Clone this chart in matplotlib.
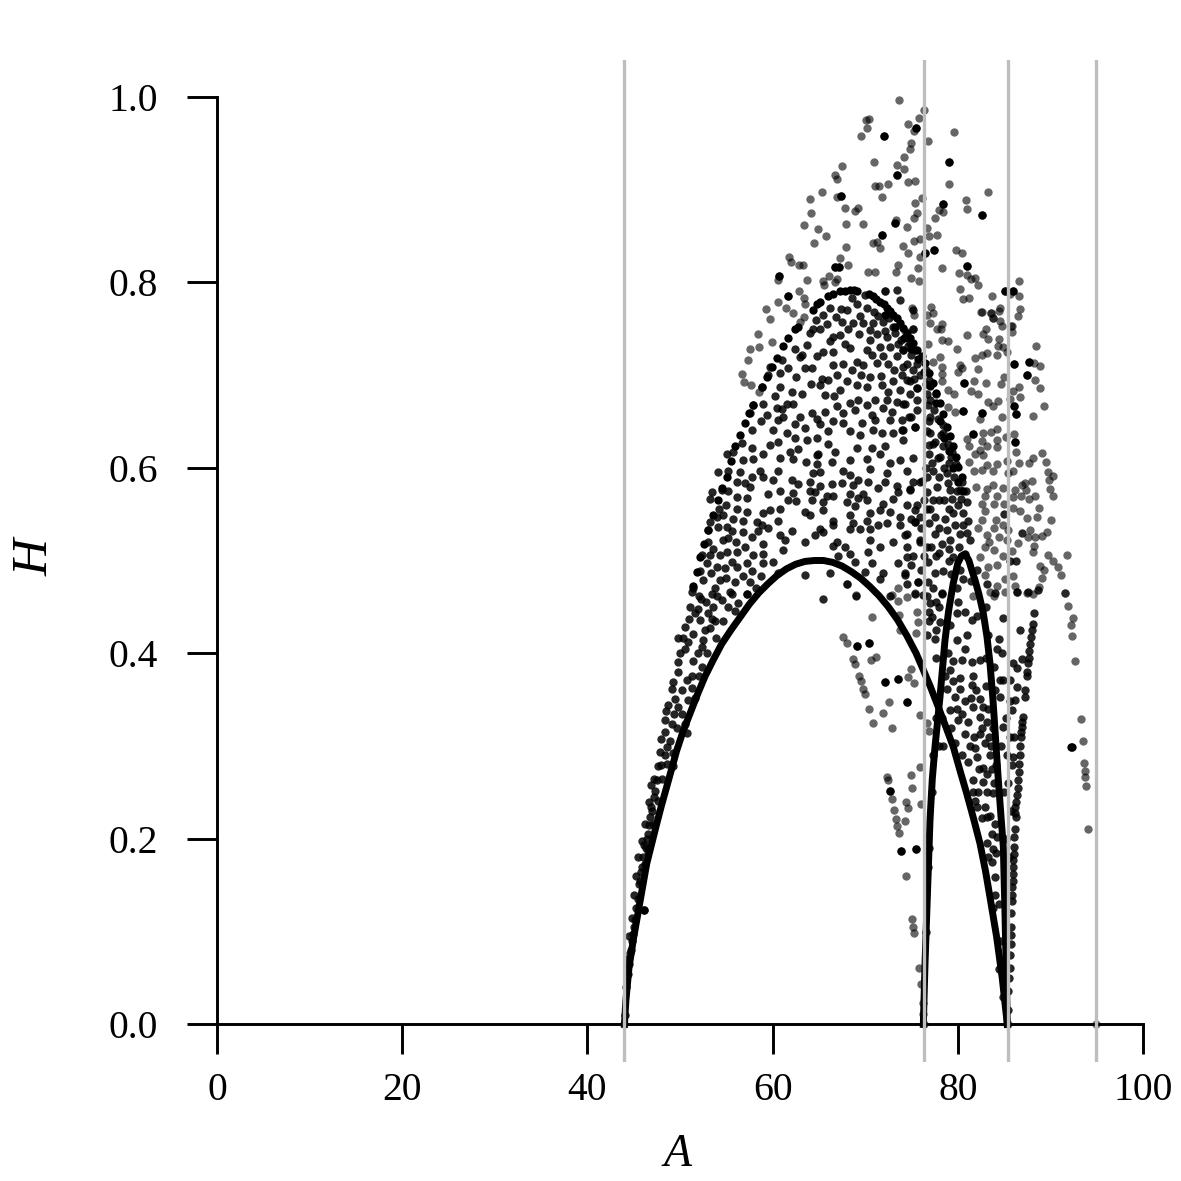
import numpy as np
import matplotlib
matplotlib.use("Agg")
import matplotlib.pyplot as plt

plt.rcParams['font.family'] = ['Liberation Serif', 'DejaVu Serif']

x_ticks = [0, 20, 40, 60, 80, 100]
y_ticks = [0.0, 0.2, 0.4, 0.6, 0.8, 1.0]
y_tick_labels = ['0.0', '0.2', '0.4', '0.6', '0.8', '1.0']
guide_A = [44.0, 76.3, 85.4, 94.9]

# the two solid-looking arcs
A_low = [44.0, 44.15, 44.49, 45.0, 45.5, 46.4, 47.48, 48.0, 48.56, 49.64, 50.3, 51.08, 51.9, 52.7, 53.6, 54.5, 55.5, 56.5,
         57.5, 58.5, 59.5, 60.5, 61.5, 62.5, 63.5, 64.5, 65.5, 66.5, 67.5, 68.5, 69.5, 70.5, 71.5, 72.5, 73.5, 74.5, 75.5,
         76.28, 77.0, 77.9, 78.7, 79.52, 80.2, 80.96, 81.7, 82.4, 83.0, 83.48, 84.2, 84.8, 85.35]
H_low = [0.0, 0.025, 0.061, 0.094, 0.122, 0.173, 0.216, 0.236, 0.256, 0.295, 0.315, 0.335, 0.356, 0.375, 0.393, 0.41, 0.425, 0.439,
         0.453, 0.465, 0.475, 0.484, 0.491, 0.496, 0.499, 0.5, 0.5, 0.498, 0.494, 0.488, 0.481, 0.472, 0.462, 0.45, 0.436, 0.419, 0.4,
         0.382, 0.365, 0.342, 0.321, 0.299, 0.275, 0.249, 0.222, 0.195, 0.165, 0.137, 0.094, 0.05, 0.0]
A_small = [76.28, 76.46, 76.71, 77.0, 77.25, 77.54, 78.08, 78.62, 79.0, 79.5, 80.0, 80.4, 80.8, 81.2, 81.5, 81.86, 82.3, 82.76,
           83.15, 83.48, 83.8, 84.02, 84.38, 84.7, 84.92, 85.1, 85.25, 85.35]
H_small = [0.0, 0.065, 0.137, 0.22, 0.265, 0.299, 0.353, 0.414, 0.445, 0.475, 0.497, 0.505, 0.507, 0.5, 0.49, 0.479, 0.463, 0.443,
           0.418, 0.389, 0.35, 0.317, 0.263, 0.22, 0.191, 0.119, 0.05, 0.0]

rim_points = [
(51.44,.472),(51.8,.488),(52.16,.504),(52.6,.518),(53.06,.533),(53.6,.549),(54.14,.565),(54.57,.578),(55.04,.590),(55.47,.607),
(55.94,.623),(56.48,.635),(57.02,.648),(57.45,.659),(57.92,.668),(58.82,.687),(59.36,.698),(59.9,.709),(60.44,.718),(61.16,.731),
(61.7,.740),(62.42,.749),(62.7,.752),(64.4,.770),(64.76,.776),(65.1,.779),(66.0,.785),(66.56,.787),(67.28,.790),(67.8,.791),(68.36,.792),(68.8,.792),(69.15,.791),
(70.4,.787),(70.88,.785),(71.2,.782),(71.6,.779),(72.0,.776),(72.32,.772),(72.7,.769),(73.04,.765),(73.4,.761),(73.76,.756),(74.1,.751),(74.48,.745),(74.85,.740),(75.2,.734),(75.6,.727),(76.1,.720),
(76.46,.713),(76.9,.702),(77.36,.691),(77.7,.681),(78.08,.670),(78.4,.658),(78.8,.644),(79.15,.634),(79.52,.623),(79.8,.612),(80.06,.601),(80.42,.590),(80.6,.575),
(72.1,.765),(73.2,.752),(74.2,.740),(75.0,.728),(75.7,.717),(76.3,.703),(77.0,.688),(77.6,.670),(78.1,.650),(78.5,.632),(79.0,.618),(79.5,.600),(80.0,.585),
]

core_points = [
(64.65,.759),(65.12,.749),(64.4,.750),(66.2,.772),(65.48,.765),(68.0,.770),(69.08,.776),(69.98,.786),(72.14,.790),(73.4,.792),
(73.76,.781),(75.2,.770),(69.8,.756),(68.72,.756),(70.88,.756),(73.04,.752),(67.28,.743),(66.56,.741),(70.52,.738),(72.32,.741),
(63.68,.732),(65.48,.725),(66.56,.725),(68.36,.729),(70.16,.727),(71.96,.720),(74.12,.727),(75.2,.749),(62.96,.719),(61.7,.707),
(63.5,.708),(64.22,.707),(65.3,.696),(66.56,.711),(68.54,.705),(69.8,.711),(71.24,.713),(73.4,.720),(75.2,.705),(59.72,.709),
(60.8,.702),(59.54,.700),(58.82,.687),(60.8,.687),(62.06,.682),(65.12,.689),(66.02,.695),(67.28,.684),(68.0,.693),(69.08,.689),
(70.16,.687),(71.78,.689),(72.5,.682),(73.76,.684),(74.84,.693),(75.56,.686),(57.92,.668),(59.0,.669),(60.26,.677),(61.52,.669),
(62.17,.669),(65.66,.678),(66.92,.667),(68.36,.670),(69.26,.673),(71.06,.673),(72.32,.673),(73.4,.671),(74.3,.669),(57.56,.659),
(59.36,.657),(60.44,.664),(61.16,.655),(64.22,.659),(64.76,.653),(65.66,.660),(67.64,.659),(68.9,.662),(70.7,.657),(71.96,.664),
(72.68,.651),(73.94,.651),(60.62,.651),(62.42,.647),(60.08,.641),(61.52,.637),(57.74,.641),(66.56,.650),(67.64,.648),(65.12,.647),
(70.88,.641),(71.78,.637),(73.94,.641),(75.38,.644),(68.36,.640),(69.44,.635),(73.04,.637),(62.42,.632),(63.68,.630),(64.76,.632),
(66.02,.626),(60.62,.628),(59.72,.624),(57.74,.621),(59.0,.615),(61.88,.617),(62.78,.620),(64.94,.615),(66.74,.617),(69.08,.621),
(70.7,.621),(72.14,.623),(74.12,.630),(75.2,.610),(55.04,.615),(55.76,.617),(60.8,.610),(62.24,.609),(63.61,.606),(64.76,.614),
(66.38,.606),(68.36,.608),(70.16,.609),(71.6,.615),(72.68,.605),(73.76,.608),(56.84,.608),(57.92,.609),(64.76,.604),(70.52,.599),
(55.22,.596),(58.64,.597),(56.48,.595),(60.62,.596),(67.64,.597),(72.32,.594),(74.48,.596),(54.14,.595),(57.74,.590),(59.0,.590),
(64.4,.594),(65.12,.595),(68.36,.592),(60.08,.587),(62.06,.587),(62.78,.582),(64.04,.585),(69.26,.587),(70.34,.585),(72.14,.585),
(76.1,.586),(56.12,.585),(57.02,.583),(66.38,.582),(67.46,.583),(68.72,.581),(71.42,.578),(73.4,.580),(74.84,.577),(53.42,.574),
(54.5,.576),(57.56,.579),(65.12,.580),(60.8,.575),(59.54,.572),(62.24,.573),(64.04,.575),(64.58,.574),(66.56,.569),(65.84,.569),
(68.36,.572),(69.8,.572),(73.58,.574),(53.24,.566),(57.2,.567),(61.7,.565),(62.53,.564),(64.22,.565),(65.48,.563),(68.0,.563),
(69.26,.567),(70.23,.565),(71.96,.561),(73.04,.566),(75.38,.554),(56.12,.556),(54.68,.549),(59.72,.554),(60.8,.555),(63.5,.552),
(65.48,.554),(68.9,.559),(70.52,.551),(71.6,.554),(72.68,.552),(59.0,.551),(53.96,.547),(55.76,.545),(57.2,.552),(66.56,.543),
(68.36,.549),(70.16,.543),(73.76,.547),(75.92,.547),(75.38,.541),(53.24,.542),(56.84,.543),(58.28,.542),(60.62,.543),(64.04,.549),
(66.56,.538),(68.72,.540),(71.42,.538),(72.32,.540),(73.76,.538),(53.06,.533),(54.14,.536),(55.04,.536),(56.84,.531),(58.82,.538),
(62.06,.532),(65.12,.534),(64.58,.527),(65.48,.531),(68.36,.534),(69.44,.534),(70.52,.534),(74.3,.527),(53.06,.520),(55.22,.524),
(59.0,.518),(60.8,.527),(61.34,.522),(63.5,.520),(66.92,.520),(70.52,.522),(71.6,.515),(73.04,.520),(74.48,.515),(75.92,.520),
(56.12,.509),(57.02,.515),(57.92,.506),(59.0,.507),(61.16,.511),(66.56,.516),(67.82,.515),(68.36,.507),(70.34,.509),(52.34,.506),
(53.24,.506),(54.32,.506),(55.04,.509),(59.0,.497),(60.08,.498),(57.2,.497),(56.12,.493),(53.96,.493),(54.86,.492),(68.9,.498),
(67.1,.505),(73.58,.497),(74.48,.504),(70.7,.497),(69.98,.488),(71.96,.486),(66.2,.486),(63.5,.484),(71.6,.480),(74.3,.484),
(52.16,.489),(52.52,.479),(54.32,.479),(55.94,.477),(57.56,.477),(75.74,.477),(74.48,.475),(68.0,.475),(51.44,.470),(53.78,.470),
(55.4,.466),(57.2,.464),(72.68,.462),(75.38,.464),(76.64,.462),(69.0,.462),(65.48,.459),
]

core_extra_points = [
(64.0,.745),(66.9,.762),(67.4,.771),(68.6,.783),(69.4,.763),(70.2,.772),(70.9,.768),(71.4,.763),(71.9,.757),(72.6,.761),
(73.2,.745),(73.9,.738),(74.6,.731),(75.0,.722),(75.6,.712),(75.9,.700),(75.3,.696),(74.5,.712),(73.5,.733),(72.7,.730),
(72.1,.747),(71.3,.744),(70.5,.748),(69.3,.744),(68.1,.750),(67.5,.757),(65.9,.755),(66.2,.737),(67.8,.733),(69.1,.714),
(70.7,.722),(71.6,.730),(72.5,.712),(73.1,.705),(74.0,.700),(74.8,.680),(75.6,.662),(75.0,.655),(73.0,.694),(71.7,.699),
(70.5,.698),(69.5,.700),(67.6,.712),(67.0,.700),(64.8,.720),(63.2,.722),(62.4,.728),(61.0,.716),(62.5,.698),(64.2,.690),
(63.2,.680),(66.6,.677),(70.2,.668),(72.9,.660),(74.7,.655),(69.7,.648),(71.1,.651),(63.0,.655),(63.5,.643),(66.0,.640),
(61.0,.663),(58.7,.650),(56.7,.627),
(55.2,.575),(56.2,.568),(55.0,.560),(54.2,.555),(55.6,.532),(57.8,.525),(58.4,.532),(59.5,.535),(54.6,.522),(56.0,.520),
(53.6,.512),(52.9,.497),(53.4,.487),(55.6,.498),(57.8,.489),(58.8,.483),(60.6,.486),(55.0,.481),(56.8,.483),(58.2,.470),
(52.0,.462),(52.8,.455),(54.0,.462),(55.2,.450),(55.9,.446),(51.9,.448),(53.0,.443),(53.8,.435),(51.0,.437),(50.9,.412),
(51.9,.400),(53.2,.427),(52.0,.376),(51.6,.352),(50.9,.350),(50.2,.335),(49.4,.335),(48.9,.305),(47.9,.308),(48.0,.280),
(47.2,.265),(46.9,.258),(46.6,.240),(46.2,.216),(45.9,.198),(45.5,.180),(45.3,.160),(45.0,.140),(44.8,.115),(44.5,.095),
(44.3,.07),
(76.6,.705),(76.9,.695),(77.6,.680),(76.7,.680),(77.4,.662),(76.9,.650),(77.9,.652),(78.2,.635),(77.5,.628),(76.9,.625),
(78.9,.626),(78.1,.612),(79.3,.612),(79.8,.604),(78.5,.600),(77.2,.605),(76.7,.590),(78.0,.590),(78.9,.583),(79.9,.575),
(80.9,.575),(80.3,.566),(79.4,.566),(78.5,.565),(77.0,.555),(76.4,.565),(75.6,.560),(75.2,.585),(74.5,.560),(75.0,.545),
(76.0,.535),(76.9,.540),(78.0,.535),(78.8,.533),(79.7,.538),(80.6,.538),(81.0,.530),(80.1,.515),(79.0,.512),(78.0,.508),
(77.1,.515),(76.3,.505),(75.2,.505),(75.0,.495),(76.0,.490),(77.5,.487),(79.3,.485),(80.6,.480),(81.4,.478),(82.1,.490),
(80.0,.455),(79.2,.430),(77.6,.455),(76.9,.435),(77.7,.425),(78.9,.400),(77.7,.395),(79.5,.392),(78.6,.375),(79.5,.370),
(81.0,.420),(82.1,.440),(83.0,.450),(83.3,.420),(83.0,.395),(83.9,.385),(84.4,.415),(84.8,.400),
(79.3,.320),(79.9,.340),(80.5,.335),(81.4,.352),(82.0,.360),(83.0,.365),(83.2,.326),(82.6,.320),(81.7,.310),(81.3,.300),
(81.9,.298),(83.4,.310),(83.6,.300),(82.3,.275),(81.6,.250),(82.2,.250),(83.2,.270),(83.7,.275),(83.2,.250),(82.6,.222),
(83.5,.225),(83.7,.205),(83.3,.180),(84.1,.185),(84.0,.140),(83.8,.125),(84.5,.13),(84.6,.09),(84.5,.06),(84.9,.03),
(85.0,.07),(85.1,.16),(85.2,.20),(85.0,.25),(84.7,.30),(85.2,.33),(85.4,.26),(85.5,.18),(85.7,.23),(85.9,.28),
(85.6,.31),(86.1,.31),(86.2,.35),(76.6,.10),(76.75,.17),(76.9,.19),(77.2,.25),(77.3,.29),(77.7,.33),(78.0,.30),
(78.3,.33),(78.4,.30),(85.6,.50),(85.0,.55),(86.3,.50),(86.9,.53),
]

right_points = [
(75.02,.772),(75.27,.765),(77.07,.773),(77.36,.767),(76.64,.765),(77.0,.756),(78.26,.755),(77.72,.749),(78.15,.750),(75.2,.749),
(74.3,.747),(78.26,.738),(78.98,.737),(76.82,.733),(79.95,.728),(78.08,.719),(77.36,.714),(78.26,.709),(78.33,.701),(78.33,.693),
(78.98,.684),(79.63,.680),(80.24,.711),(80.49,.707),(80.06,.703),(82.22,.706),(82.58,.768),(83.59,.767),(84.56,.772),(83.84,.761),
(84.74,.753),(83.05,.750),(82.69,.744),(81.03,.743),(83.3,.739),(84.45,.739),(84.38,.731),(84.92,.730),(85.28,.725),(83.19,.724),
(82.58,.722),(81.86,.718),(84.27,.722),(85.82,.753),(85.82,.746),(88.41,.731),(86.07,.712),(87.66,.714),(88.27,.713),(88.88,.710),
(87.44,.700),(88.34,.695),(88.88,.686),(86.61,.687),(86.0,.683),(86.72,.676),(85.64,.674),(83.05,.691),(84.67,.690),(84.99,.698),
(80.71,.691),(81.75,.693),(81.46,.683),(82.15,.679),(83.3,.671),(83.77,.666),(84.38,.672),(86.11,.666),(86.25,.658),(89.35,.667),
(88.12,.656),(84.74,.655),(82.65,.659),(82.4,.652),(80.53,.661),(79.7,.660),(78.98,.665),(84.27,.642),(83.55,.639),(82.76,.637),
(81.61,.636),(80.96,.631),(86.07,.636),(86.18,.628),(86.25,.617),(85.21,.633),(84.2,.630),(82.58,.629),(83.19,.623),(84.27,.622),
(81.25,.623),(82.4,.619),(81.86,.615),(82.76,.614),(89.1,.616),(88.09,.610),(86.65,.605),(87.69,.605),(89.53,.606),(85.28,.607),
(84.27,.604),(83.12,.603),(81.25,.606),(81.75,.597),(82.58,.598),(83.84,.596),(85.39,.594),(86.0,.596),(89.71,.595),(90.25,.591),
(89.89,.587),(87.98,.586),(87.26,.583),(86.9,.581),(87.37,.576),(89.96,.577),(90.25,.570),(88.34,.570),(87.73,.566),(86.79,.570),
(86.0,.568),(86.18,.576),(84.85,.578),(83.84,.581),(83.19,.577),(84.27,.570),(81.97,.579),(82.94,.570),(82.58,.561),(83.95,.561),
(84.99,.561),(85.93,.557),(86.72,.553),(82.94,.553),(88.77,.557),(88.59,.547),(90.03,.544),(87.44,.546),(84.13,.544),(82.58,.544),
(82.15,.535),(83.91,.535),(84.92,.538),(85.46,.533),(87.8,.533),(88.34,.525),(89.67,.531),(89.06,.526),(87.62,.525),(88.23,.516),
(85.28,.522),(86.54,.519),(84.45,.525),(83.19,.527),(83.41,.520),(82.98,.515),(85.89,.510),(83.95,.511),(88.09,.509),(89.71,.506),
(90.32,.499),(91.83,.506),(90.86,.493),(91.15,.484),(88.88,.494),(89.31,.490),(89.06,.481),(85.93,.483),(85.1,.480),(84.92,.505),
(84.2,.495),(83.3,.493),(82.94,.484),(84.27,.473),(86.18,.472),(86.36,.466),(87.44,.465),(88.16,.464),(88.81,.471),(91.62,.465),
(83.48,.466),(83.91,.462),(85.1,.466),(82.4,.504),(81.61,.462),
]

right_dense_points = [
(77.36,.596),(78.8,.594),(74.84,.576),(77.72,.579),(79.16,.576),(80.24,.576),(77.36,.565),(80.96,.563),(79.52,.551),(80.6,.551),
(78.62,.545),(77.54,.547),(81.14,.543),(75.92,.585),(76.64,.574),(75.38,.542),(74.48,.529),(75.92,.522),(77.54,.529),(78.26,.518),
(79.16,.522),(80.24,.529),(81.32,.522),(76.82,.498),(78.44,.489),(79.52,.504),(80.78,.507),(75.74,.477),(76.82,.477),(78.26,.464),
(74.3,.486),(77.36,.626),(78.44,.623),(78.44,.637),(79.34,.617),(77.0,.637),(75.38,.644),(77.0,.655),(78.44,.646),(74.12,.641),
(75.56,.673),(77.0,.673),(74.12,.669),(74.48,.695),(75.56,.686),(74.12,.727),(74.84,.734),(74.12,.709),(75.38,.727),(76.6,.690),
(76.8,.668),(76.7,.640),(76.9,.615),(77.9,.610),(79.0,.605),(79.6,.590),(80.5,.585),(76.6,.600),(76.7,.555),(78.0,.565),
(79.1,.555),(80.0,.560),(76.7,.515),(77.6,.505),(79.0,.500),(80.2,.490),(79.9,.470),(77.3,.470),(78.0,.450),(76.9,.445),
(76.7,.420),(77.5,.415),
]

lower_points = [
(68.07,.475),(69.01,.463),(70.74,.439),(67.64,.418),(68.0,.411),(69.08,.408),(70.38,.411),(68.65,.394),(68.9,.388),(70.63,.393),
(71.17,.396),(69.33,.375),(69.51,.370),(69.76,.362),(69.98,.356),(72.18,.369),(73.51,.372),(72.57,.348),(70.45,.340),(71.96,.336),
(70.88,.325),(72.93,.320),(74.48,.347),(74.59,.374),(75.27,.368),(74.91,.383),(75.49,.422),(75.56,.444),(75.74,.434),(73.69,.441),
(73.76,.425),(72.86,.463),(73.58,.456),(74.48,.461),(75.38,.465),(73.58,.470),(75.92,.333),(76.71,.325),(76.86,.316),
(72.32,.267),(72.43,.263),(72.68,.252),(72.86,.243),(73.11,.231),(73.29,.221),(73.47,.214),(73.62,.206),(73.9,.187),(75.49,.189),
(74.37,.240),(74.62,.233),(74.34,.219),(74.41,.160),(75.09,.114),(75.2,.105),(75.31,.099),(74.95,.269),(75.09,.255),(75.92,.277),
(76.03,.238),(75.85,.061),(76.03,.043),(76.28,.023),(76.28,.011),(76.3,.0),(85.4,.0),
(91.62,.465),(91.87,.451),(92.48,.438),(92.19,.430),(92.37,.419),(92.66,.392),(93.27,.329),(93.49,.305),(93.63,.282),(93.74,.273),
(93.74,.267),(93.81,.257),(94.06,.211),(94.89,.0),(44.0,.0),
]

band_points = [
(87.01,.331),(86.9,.321),(86.79,.310),(86.72,.290),(86.65,.281),(86.54,.263),(86.43,.247),(86.18,.234),(86.25,.223),(86.18,.211),
(86.07,.191),(86.0,.177),(86.0,.162),(85.89,.148),(85.82,.133),(85.75,.105),(85.71,.087),(85.64,.061),(85.46,.036),(85.46,.015),
(87.26,.353),(87.44,.375),(87.62,.389),(87.73,.402),(87.87,.418),(88.09,.432),(88.27,.443),(88.7,.468),(87.62,.466),(86.36,.466),
(86.72,.425),(86.0,.389),(86.36,.384),(86.9,.394),(85.64,.371),(86.36,.364),(85.82,.339),(85.64,.349),(84.92,.371),(84.56,.353),
(84.92,.321),(85.28,.290),(86.0,.288),(86.95,.326),(86.85,.315),(86.75,.300),(86.6,.272),(86.48,.255),(86.3,.240),(86.2,.228),
(86.12,.202),(86.04,.184),(85.95,.170),(85.92,.155),(85.85,.14),(85.78,.12),(85.73,.096),(85.68,.075),(85.55,.05),(87.3,.36),
(87.5,.38),(87.7,.395),(87.8,.41),(88.0,.425),
]

between_points = [
(78.8,.362),(79.7,.353),(80.24,.362),(80.78,.349),(81.68,.342),(82.76,.342),(82.4,.351),(81.5,.366),(81.68,.375),(80.24,.373),
(79.16,.382),(80.42,.393),(81.5,.391),(82.4,.393),(80.78,.405),(79.88,.414),(81.5,.436),(80.78,.445),(79.88,.443),(78.08,.434),
(77.18,.439),(77.0,.454),(76.28,.463),(78.26,.465),(83.12,.475),(84.02,.465),(84.92,.438),(84.2,.405),(84.56,.371),(84.02,.360),
(79.16,.339),(80.06,.328),(81.14,.326),(82.4,.331),(80.78,.313),(82.4,.313),(82.94,.303),(82.04,.288),(82.76,.276),(80.42,.290),
(81.14,.283),(79.7,.303),(81.68,.263),(82.76,.261),(83.84,.249),(81.86,.241),(83.12,.223),(84.02,.216),(83.12,.195),(83.84,.189),
(83.66,.175),(84.02,.159),(82.04,.234),(82.94,.234),(84.2,.202),(83.3,.34),(83.8,.32),(83.5,.29),(84.1,.28),(83.9,.26),
]

band_left_points = [
(51.33,.466),(52.27,.459),(53.42,.464),(54.5,.457),(56.23,.454),(57.2,.464),(55.58,.464),(51.08,.450),(51.62,.443),(52.16,.436),
(53.42,.437),(53.6,.450),(54.68,.435),(50.54,.428),(51.44,.421),(52.7,.425),(50.36,.416),(49.82,.417),(52.52,.414),(53.89,.416),
(50.54,.405),(50.0,.400),(52.34,.407),(52.95,.400),(51.44,.392),(49.82,.391),(49.82,.380),(51.33,.376),(52.34,.385),(49.28,.369),
(49.1,.362),(50.72,.371),(50.18,.360),(51.26,.363),(49.46,.351),(48.74,.344),(48.45,.338),(49.82,.342),(48.38,.328),(49.1,.324),
(48.38,.315),(49.64,.320),(50.72,.314),(50.54,.324),(48.56,.299),(47.84,.294),(48.38,.290),(47.66,.279),(48.56,.281),(49.28,.279),
(47.48,.263),(48.02,.265),(47.3,.252),(46.87,.234),(46.76,.223),(46.58,.205),(46.15,.193),(46.04,.180),(45.79,.164),(45.57,.151),
(45.43,.135),(46.15,.123),(45.14,.112),(44.96,.097),(44.6,.077),(44.35,.054),(46.22,.173),(46.58,.187),(47.12,.216),
(47.66,.241),(49.28,.292),(45.3,.125),(45.7,.155),(45.9,.17),(46.3,.19),(46.45,.2),(46.7,.215),(47.0,.23),(47.2,.245),
(45.05,.105),(44.8,.09),(44.7,.08),(44.5,.065),(44.2,.04),(44.05,.01),
]

outer_points = [
(73.69,.996),(76.31,.986),(75.77,.977),(74.66,.971),(75.49,.966),(75.31,.963),(70.37,.976),(70.05,.975),(70.2,.966),(69.55,.958),
(72.03,.958),(79.63,.962),(76.78,.952),(74.91,.950),(74.87,.943),(74.19,.935),(70.95,.930),(79.09,.930),(73.47,.926),(74.19,.922),
(67.46,.925),(66.74,.916),(66.95,.911),(73.47,.915),(74.59,.908),(75.38,.909),(79.01,.906),(72.43,.906),(71.53,.904),(71.06,.904),
(83.23,.897),(65.34,.897),(64.04,.890),(67.35,.893),(66.99,.892),(71.81,.892),(76.17,.891),(80.92,.889),(75.34,.885),(78.44,.884),
(77.97,.878),(78.4,.876),(80.96,.879),(67.85,.880),(69.22,.880),(68.9,.877),(64.15,.875),(75.63,.875),(75.31,.869),(77.54,.869),
(82.61,.872),(73.33,.867),(73.18,.864),(63.43,.862),(67.96,.863),(69.73,.863),(74.48,.859),(76.64,.858),(64.87,.857),(65.77,.850),
(76.89,.850),(77.72,.851),(71.78,.851),(75.95,.847),(75.31,.844),(64.51,.842),(70.88,.842),(71.24,.843),(71.6,.837),(67.96,.838),
(74.08,.839),(79.84,.835),(80.45,.831),(77.47,.835),(76.46,.831),(74.62,.831),(75.92,.827),(67.24,.826),(61.74,.827),(61.99,.822),
(62.89,.819),(63.25,.818),(66.74,.816),(67.21,.816),(68.14,.818),(73.58,.818),(75.7,.815),(78.29,.815),(80.96,.817),(73.33,.811),
(70.34,.811),(71.06,.811),(80.13,.810),(80.96,.808),(60.69,.807),(60.55,.802),(63.75,.802),(66.13,.807),(65.41,.801),(65.55,.797),
(66.95,.803),(66.7,.800),(74.98,.804),(75.81,.801),(81.39,.803),(81.86,.804),(82.18,.797),(86.57,.801),(80.2,.793),(85.1,.790),
(85.93,.790),(85.6,.787),(86.61,.785),(83.73,.785),(80.6,.782),(81.17,.783),(62.89,.790),(61.7,.785),(63.36,.783),(63.5,.777),
(60.55,.779),(59.29,.771),(61.48,.772),(62.2,.767),(59.76,.760),(63.43,.762),(62.96,.757),(72.14,.790),(82.54,.768),(83.6,.767),
(84.5,.769),(86.68,.771),(86.47,.764),(83.84,.761),(84.56,.758),(85.75,.753),(58.46,.744),(59.97,.736),(57.56,.728),(58.53,.730),
(57.38,.716),(56.73,.701),(56.91,.692),(57.67,.689),(58.53,.682),
]

heavy_points = [
(75.49,.966),(72.03,.958),(79.09,.930),(73.47,.915),(67.35,.893),(78.44,.884),(82.61,.872),(73.18,.864),(71.78,.851),(77.47,.835),
(76.46,.831),(66.74,.816),(67.21,.816),(80.96,.817),(60.69,.807),(85.1,.790),(85.93,.790),(61.7,.785),(92.19,.299),(92.3,.299),
(74.48,.347),(70.38,.411),(69.08,.408),(72.18,.369),(73.51,.372),(73.9,.187),(75.49,.189),(80.71,.691),(86.07,.712),(87.66,.714),
(87.44,.700),(86.11,.666),(86.25,.658),(82.65,.659),(80.53,.661),(81.61,.636),(86.18,.628),(46.15,.123),(72.68,.252),
]

fig = plt.figure(figsize=(11.81, 11.81), dpi=100)
W = H_px = 1181.0
ax = fig.add_axes([180 / W, 1 - 1061.5 / H_px, 1000 / W, 1002 / H_px])
ax.set_xlim(-4, 104)
ax.set_ylim(-0.04, 1.04)

for a in guide_A:
    ax.axvline(a, color='#bebebe', lw=2.4, zorder=3.5)


def scatter(points, alpha):
    arr = np.array(points)
    ax.scatter(arr[:, 0], arr[:, 1], s=36, color='black', alpha=alpha, linewidths=0, zorder=3)


for group in (outer_points, right_points, lower_points):
    scatter(group, 0.6)
for group in (core_points, core_extra_points, right_dense_points, band_points, between_points, band_left_points):
    scatter(group, 0.85)
scatter(rim_points, 1.0)
scatter(heavy_points, 1.0)

ax.plot(A_low, H_low, color='black', lw=5.0, solid_joinstyle='round', zorder=3)
ax.plot(A_small, H_small, color='black', lw=5.0, solid_joinstyle='round', zorder=3)

for side in ('top', 'right'):
    ax.spines[side].set_visible(False)
ax.spines['left'].set_position(('data', 0))
ax.spines['bottom'].set_position(('data', 0))
ax.spines['left'].set_bounds(0, 1)
ax.spines['bottom'].set_bounds(0, 100)
ax.spines['left'].set_linewidth(2.1)
ax.spines['bottom'].set_linewidth(2.1)
ax.spines['left'].set_zorder(2)
ax.spines['bottom'].set_zorder(2)

ax.set_xticks(x_ticks)
ax.set_yticks(y_ticks)
ax.set_yticklabels(y_tick_labels)
ax.tick_params(axis='both', direction='out', length=21.6, width=2.1, labelsize=28.5, pad=13, colors='black')
ax.tick_params(axis='y', pad=21)

ax.set_xlabel('A', fontsize=33, fontstyle='italic', va='center')
ax.xaxis.set_label_coords(0.498, -0.093)
ax.set_ylabel('H', fontsize=37, fontstyle='italic', va='center', rotation=90)
ax.yaxis.set_label_coords(-0.145, 0.503)
ax.patch.set_alpha(0)

fig.savefig('out.png', dpi=100)
